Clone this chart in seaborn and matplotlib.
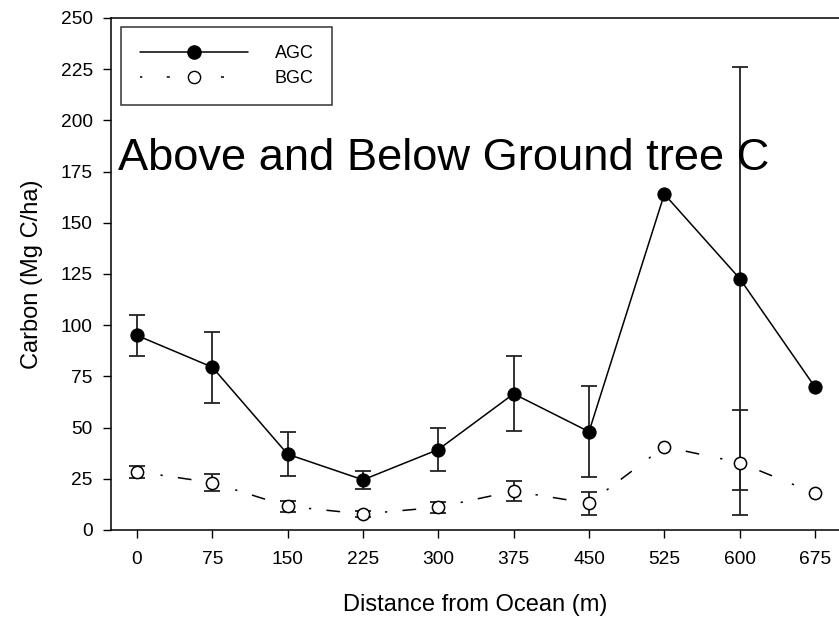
import numpy as np
import pandas as pd
import matplotlib
matplotlib.use("Agg")
import matplotlib.pyplot as plt
from matplotlib.lines import Line2D
import seaborn as sns

# ---- data ----
distance = [0, 75, 150, 225, 300, 375, 450, 525, 600, 675]
agc = [95.0, 79.5, 37.0, 24.5, 39.3, 66.5, 48.0, 164.0, 122.8, 69.8]
agc_err = [9.8, 17.3, 10.8, 4.4, 10.7, 18.3, 22.2, np.nan, 103.3, np.nan]
bgc = [28.5, 23.1, 11.6, 7.8, 11.1, 19.0, 13.0, 40.7, 32.9, 17.9]
bgc_err = [2.9, 4.2, 2.8, 1.3, 2.8, 4.8, 5.7, np.nan, 25.8, np.nan]
xticks = [0, 75, 150, 225, 300, 375, 450, 525, 600, 675]
yticks = [0, 25, 50, 75, 100, 125, 150, 175, 200, 225, 250]
title_text = "Above and Below Ground tree C"

df = pd.DataFrame({"distance": distance, "AGC": agc, "AGC_err": agc_err,
                   "BGC": bgc, "BGC_err": bgc_err})

sns.set_style("ticks")
plt.rcParams["font.family"] = ["Liberation Sans", "DejaVu Sans"]
plt.rcParams["text.color"] = "black"
plt.rcParams["axes.labelcolor"] = "black"
plt.rcParams["xtick.color"] = "black"
plt.rcParams["ytick.color"] = "black"

fig = plt.figure(figsize=(8.39, 6.21), dpi=100)
ax = fig.add_axes([111 / 839, 1 - 530 / 621, 1 - 111 / 839, (530 - 18) / 621])

bgc_ls = (0, (1.5, 14, 1.5, 10, 9, 14))

# error bars (under markers)
for col, errcol in [("AGC", "AGC_err"), ("BGC", "BGC_err")]:
    sub = df[df[errcol].notna()]
    ax.errorbar(sub["distance"], sub[col], yerr=sub[errcol], fmt="none",
                ecolor="#222222", elinewidth=1.3, capsize=5.8, capthick=1.3,
                zorder=1)

sns.lineplot(data=df, x="distance", y="AGC", ax=ax, color="black", lw=1.1,
             marker="o", markersize=9.5, markerfacecolor="black",
             markeredgecolor="black", zorder=3, legend=False)
sns.lineplot(data=df, x="distance", y="BGC", ax=ax, color="black", lw=1.1,
             linestyle=bgc_ls, marker="o", markersize=8.8,
             markerfacecolor="white", markeredgecolor="black",
             markeredgewidth=1.1, zorder=3, legend=False)

ax.set_xlim(-25.9, 698.9)
ax.set_ylim(0, 250)
ax.set_xticks(xticks)
ax.set_yticks(yticks)
ax.tick_params(axis="both", direction="out", length=5.6, width=1,
               labelsize=13.8, colors="black", labelcolor="black")
ax.tick_params(axis="x", pad=9.5)
ax.tick_params(axis="y", pad=7.5)
for s in ["left", "bottom", "top"]:
    ax.spines[s].set_visible(True)
    ax.spines[s].set_color("black")
    ax.spines[s].set_linewidth(1.1)
ax.spines["right"].set_visible(False)

ax.set_xlabel("Distance from Ocean (m)", fontsize=17, labelpad=19,
              color="black")
ax.set_ylabel("Carbon (Mg C/ha)", fontsize=17, labelpad=13, color="black")

ax.text(-19, 175.8, title_text, fontsize=32.6, va="baseline", ha="left",
        color="black", zorder=4)

handles = [
    Line2D([], [], color="black", lw=1.1, marker="o", markersize=9.5,
           markerfacecolor="black", markeredgecolor="black"),
    Line2D([], [], color="black", lw=1.1, linestyle=(0, (1.5, 16, 2, 16)),
           marker="o", markersize=8.8, markerfacecolor="white",
           markeredgecolor="black"),
]
leg = ax.legend(handles, ["AGC", "BGC"], loc="upper left",
                bbox_to_anchor=(10.5 / 728, 1 - 9 / 512), fontsize=13,
                frameon=True, fancybox=False, edgecolor="black",
                handlelength=6.0, handletextpad=1.5, labelspacing=0.45,
                borderpad=1.0, borderaxespad=0, numpoints=1)
leg.get_frame().set_linewidth(1.1)
for t in leg.get_texts():
    t.set_color("black")
leg.set_zorder(5)

fig.savefig("out.png", dpi=100)
